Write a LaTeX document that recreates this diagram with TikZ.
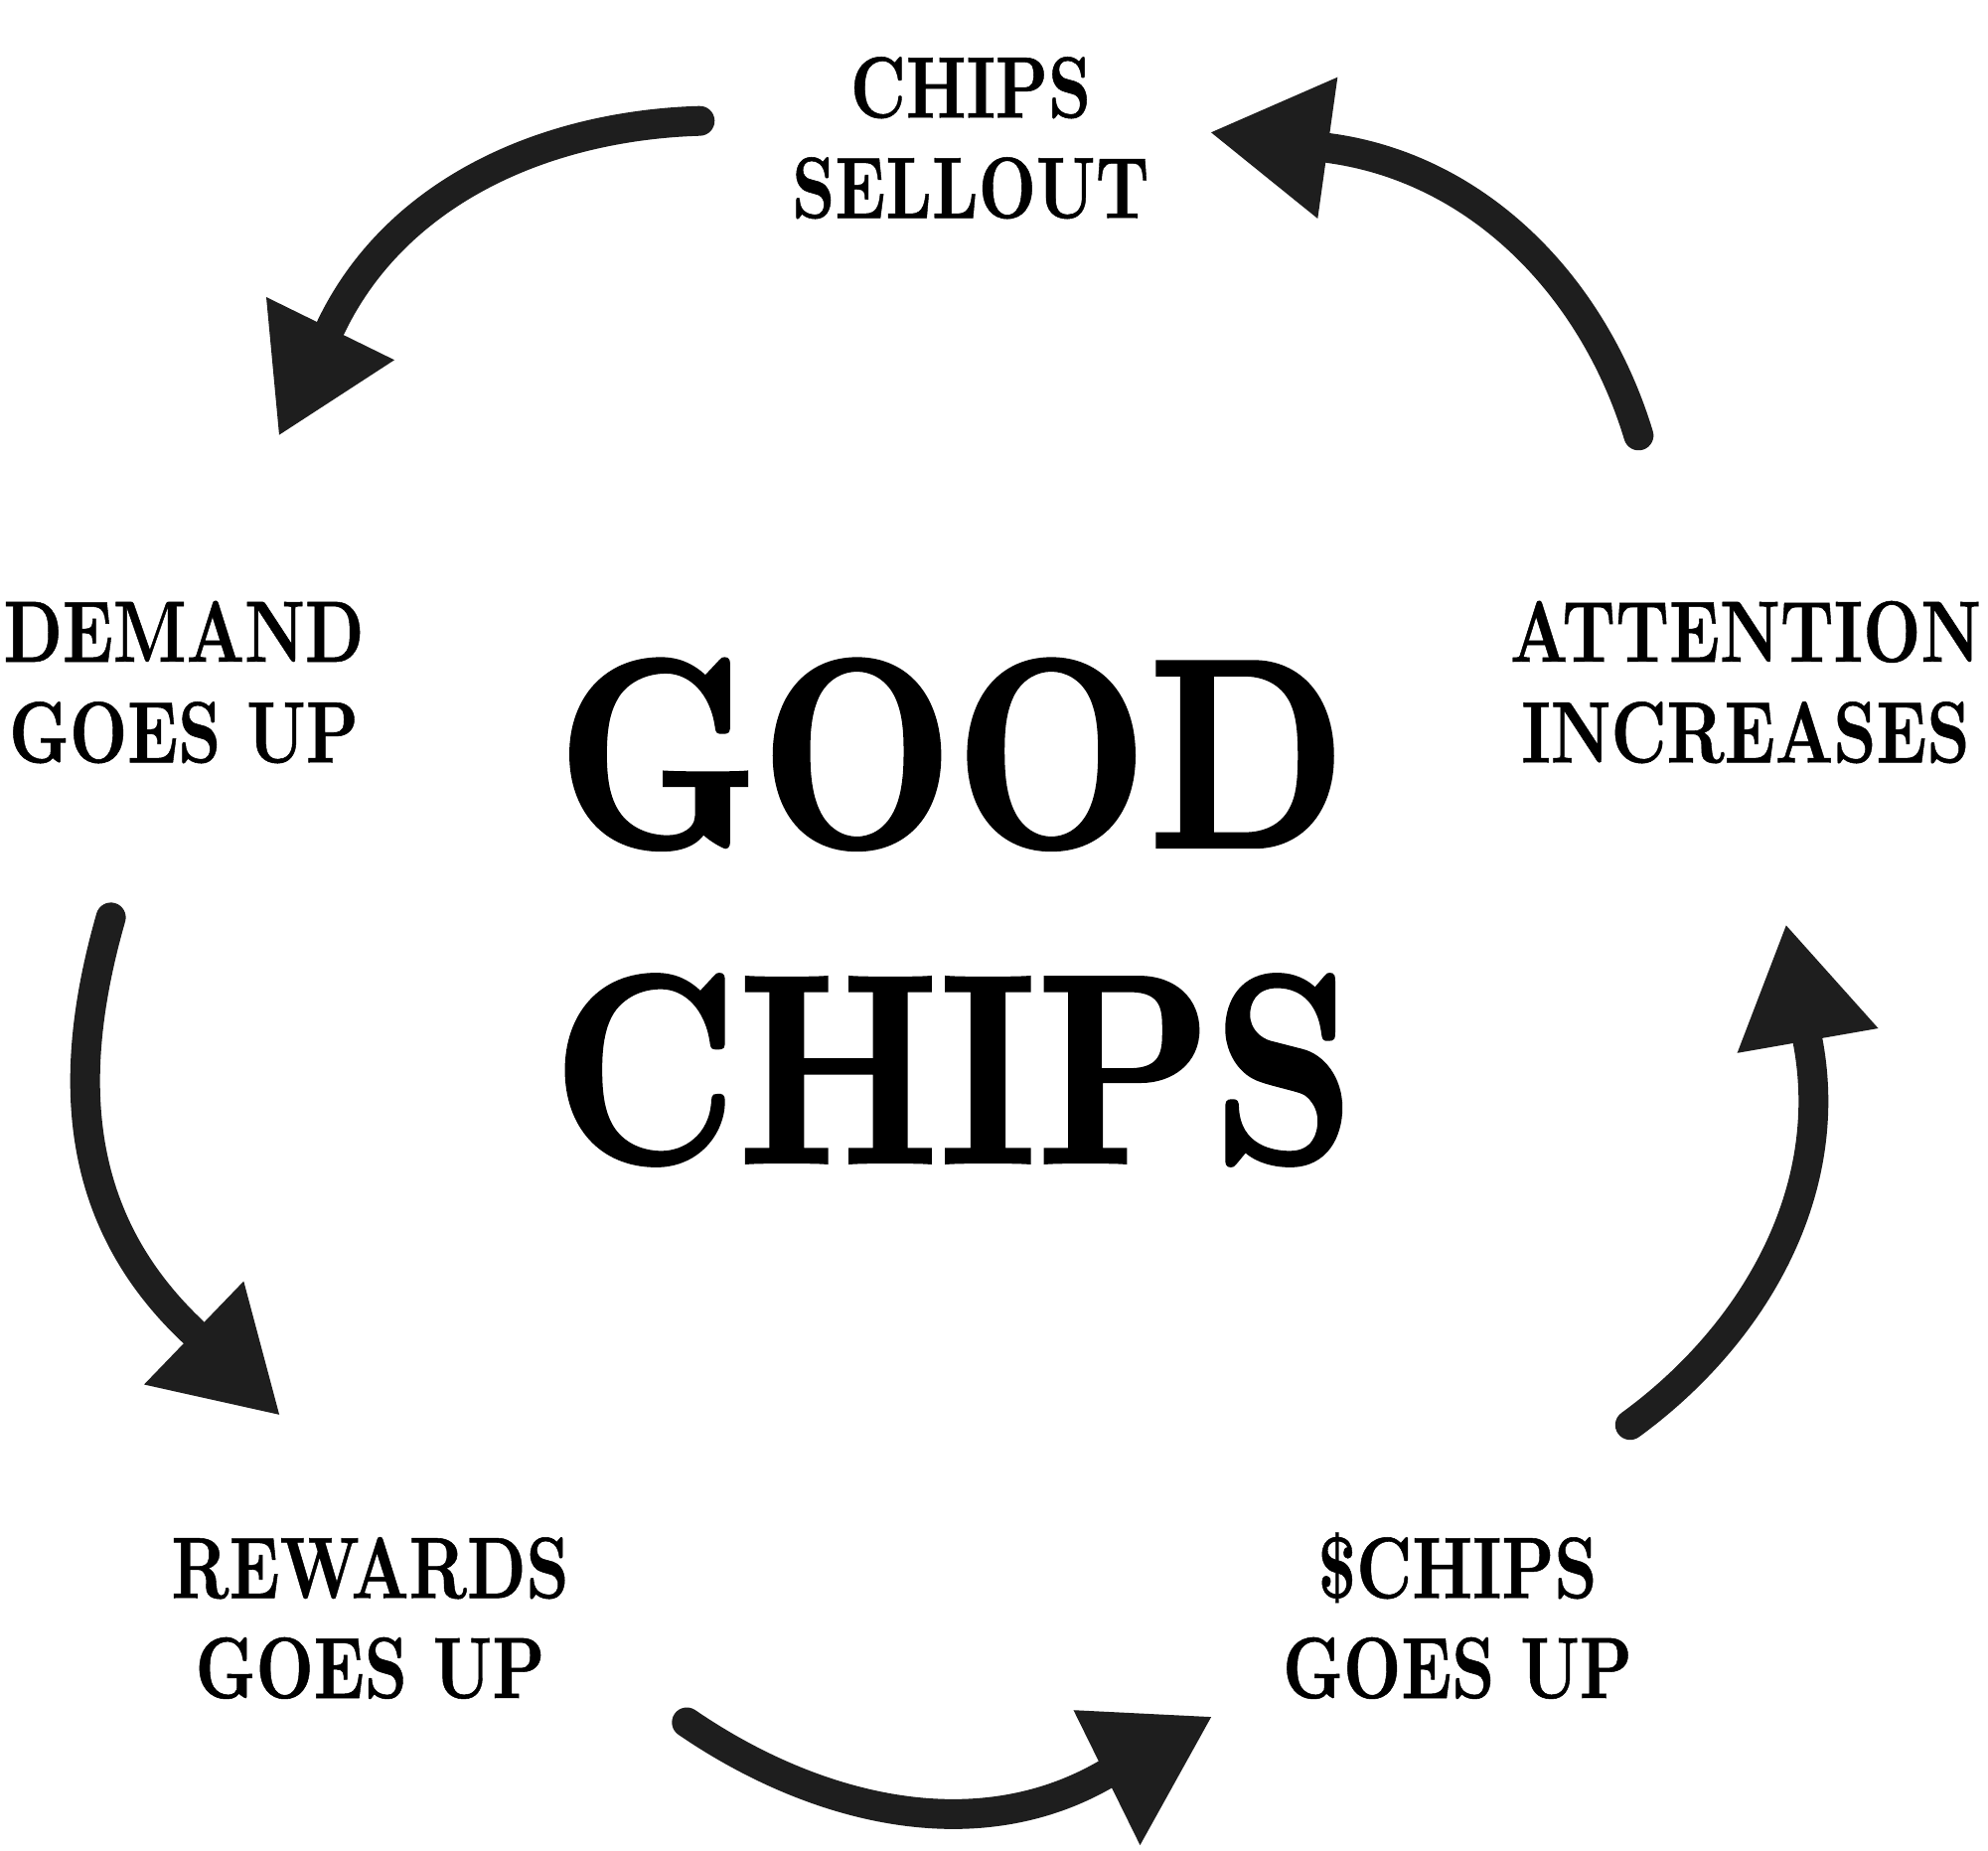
\documentclass[tikz,border=0pt]{standalone}
\usepackage{fontspec}
\usepackage{graphicx}
\newfontfamily\lblfont{lmroman10-bold.otf}[FakeBold=0.6]
\newfontfamily\bigfont{lmroman10-bold.otf}[FakeBold=1.4]
\definecolor{ink}{HTML}{1E1E1E}
\newcommand{\sqz}[2][0.77]{\scalebox{#1}[1]{#2}}
\begin{document}
\begin{tikzpicture}[x=0.25pt,y=-0.25pt,
  lbl/.style={inner sep=0pt, anchor=base, text=black, font=\lblfont\fontsize{21.9}{25}\selectfont},
  big/.style={inner sep=0pt, anchor=base, text=black, font=\bigfont\fontsize{67.8}{80}\selectfont},
  shaft/.style={draw=ink, line width=7.5pt, line cap=round},
  arrhead/.style={fill=ink}]
\fill[white] (0,0) rectangle (2001,1862);
\useasboundingbox (0,0) rectangle (2001,1862);

% ---- labels ----
\node[lbl] (sellA) at (977,118.3) {\sqz{CHIPS}};
\node[lbl] (sellB) at (977,219.3) {\sqz{SELLOUT}};
\node[lbl] (demA) at (185,666) {\sqz{DEMAND}};
\node[lbl] (demB) at (185,767.3) {\sqz{GOES UP}};
\node[lbl] (attA) at (1757,666) {\sqz{ATTENTION}};
\node[lbl] (attB) at (1757,767.3) {\sqz{INCREASES}};
\node[lbl] (rewA) at (372.5,1608.3) {\sqz{REWARDS}};
\node[lbl] (rewB) at (372.5,1709) {\sqz{GOES UP}};
\node[lbl] (chA) at (1467,1608.3) {\sqz{\$CHIPS}};
\node[lbl] (chB) at (1467,1709) {\sqz{GOES UP}};
\node[big] (goodA) at (958,852.3) {\sqz[0.835]{GOOD}};
\node[big] (goodB) at (960,1170) {\sqz[0.83]{CHIPS}};

% ---- arrow 1: sellout -> demand ----
\coordinate (s1) at (704.3,121.7);
\coordinate (b1) at (333,329.3);
\coordinate (h1a) at (268,299);
\coordinate (h1b) at (397,362.3);
\coordinate (t1) at (281,437.7);
\draw[shaft] (s1) .. controls (550.9,126.3) and (399.4,190.9) .. (b1);
\fill[arrhead] (h1a) -- (t1) -- (h1b) -- cycle;

% ---- arrow 2: attention -> sellout ----
\coordinate (s2) at (1649.3,438.3);
\coordinate (b2) at (1337,149);
\coordinate (h2a) at (1346.3,77.7);
\coordinate (h2b) at (1326.3,220);
\coordinate (t2) at (1219,133.3);
\draw[shaft] (s2) .. controls (1604.6,290.5) and (1489.6,169.3) .. (b2);
\fill[arrhead] (h2a) -- (t2) -- (h2b) -- cycle;

% ---- arrow 3: demand -> rewards ----
\coordinate (s3) at (111.6,923.4);
\coordinate (b3) at (194.3,1340.5);
\coordinate (h3a) at (145,1393.5);
\coordinate (h3b) at (245.3,1289.5);
\coordinate (t3) at (281.1,1423.8);
\draw[shaft] (s3) .. controls (66,1082.8) and (73,1226.3) .. (b3);
\fill[arrhead] (h3a) -- (t3) -- (h3b) -- cycle;

% ---- arrow 4: rewards -> $chips ----
\coordinate (s4) at (691.3,1733.5);
\coordinate (b4) at (1113.3,1785.5);
\coordinate (h4a) at (1080.5,1721.2);
\coordinate (h4b) at (1147.5,1857.1);
\coordinate (t4) at (1219.1,1728.1);
\draw[shaft] (s4) .. controls (818,1820.3) and (980.6,1862.6) .. (b4);
\fill[arrhead] (h4a) -- (t4) -- (h4b) -- cycle;

% ---- arrow 5: $chips -> attention ----
\coordinate (s5) at (1640.8,1434.2);
\coordinate (b5) at (1819.7,1048.6);
\coordinate (h5a) at (1748.6,1059.8);
\coordinate (h5b) at (1890.5,1035);
\coordinate (t5) at (1797.8,931.4);
\draw[shaft] (s5) .. controls (1765.2,1343.6) and (1848.1,1199.6) .. (b5);
\fill[arrhead] (h5a) -- (t5) -- (h5b) -- cycle;
\end{tikzpicture}
\end{document}
